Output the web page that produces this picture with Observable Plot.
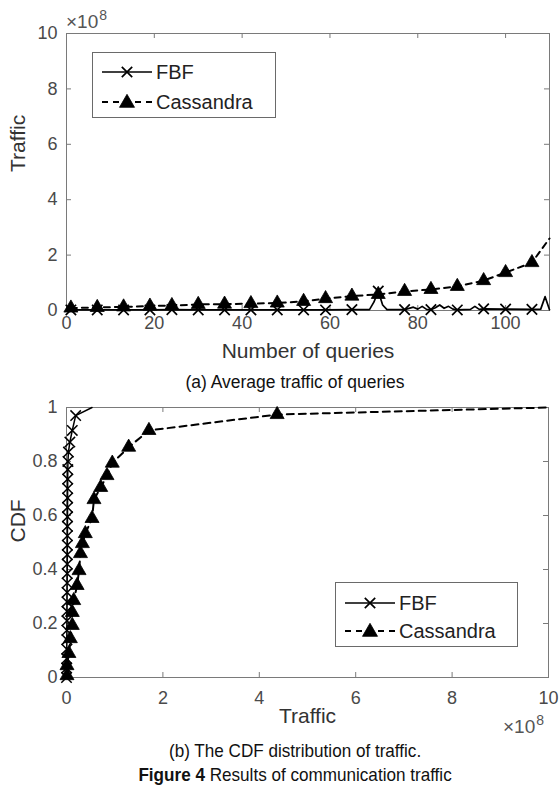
<!DOCTYPE html>
<html>
<head>
<meta charset="utf-8">
<script src="https://cdn.jsdelivr.net/npm/d3@7"></script>
<script src="https://cdn.jsdelivr.net/npm/@observablehq/plot@0.6"></script>
<style>
  body { margin: 0; background: #fff; }
  #wrap { position: relative; width: 560px; height: 787px; overflow: hidden; background: #fff;
          font-family: "Liberation Sans", Arial, Helvetica, sans-serif; }
  .abs { position: absolute; }
  .cap { position: absolute; left: 15px; width: 560px; text-align: center; color: #111; white-space: nowrap; }
  .exp { position: absolute; color: #555; font-size: 19px; line-height: 19px; white-space: nowrap; }
  .exp span { font-size: 14px; position: relative; top: -8px; margin-left: 1px; }
</style>
</head>
<body>
<div id="wrap"></div>
<script>
// ---------- (a) Average traffic of queries (traffic in units of 1e8) ----------
const queryTicks = [0, 20, 40, 60, 80, 100];
const trafficTicksA = [0, 2, 4, 6, 8, 10];
const markerQueries = [1, 7, 13, 19, 24, 30, 36, 42, 48, 54, 59, 65, 71, 77, 83, 89, 95, 100, 106];

const queriesFBF = [0, 1, 7, 13, 19, 24, 30, 36, 42, 48, 54, 59, 65, 69, 70, 71, 72, 73, 77, 79, 80, 81, 82, 83, 84, 85, 86, 87, 88, 89, 92, 93, 94, 95, 100, 106, 108, 109, 110];
const trafficFBF = [0.03, 0.02, 0.02, 0.02, 0.02, 0.03, 0.02, 0.02, 0.02, 0.02, 0.02, 0.02, 0.03, 0.03, 0.3, 0.7, 0.2, 0.03, 0.03, 0.12, 0.05, 0.15, 0.04, 0.03, 0.1, 0.2, 0.08, 0.15, 0.05, 0.02, 0.04, 0.15, 0.04, 0.06, 0.05, 0.04, 0.05, 0.5, 0.03];

const queriesCass = [1, 7, 13, 19, 24, 30, 36, 42, 48, 54, 59, 65, 71, 77, 83, 89, 95, 100, 106, 110];
const trafficCass = [0.09, 0.11, 0.13, 0.16, 0.18, 0.22, 0.23, 0.25, 0.27, 0.33, 0.43, 0.52, 0.58, 0.69, 0.76, 0.87, 1.08, 1.37, 1.73, 2.6];

// ---------- (b) CDF of traffic (traffic in units of 1e8) ----------
const trafficTicksB = [0, 2, 4, 6, 8, 10];
const cdfTicks = [0, 0.2, 0.4, 0.6, 0.8, 1];

const cdfTrafficFBF = [0.0, 0.003, 0.005, 0.006, 0.008, 0.009, 0.01, 0.011, 0.012, 0.013, 0.014, 0.015, 0.016, 0.017, 0.018, 0.019, 0.02, 0.021, 0.022, 0.023, 0.024, 0.025, 0.027, 0.03, 0.04, 0.07, 0.12, 0.19, 0.53];
const cdfFBF = [0, 0.035, 0.07, 0.105, 0.14, 0.175, 0.21, 0.245, 0.28, 0.315, 0.35, 0.385, 0.42, 0.455, 0.49, 0.525, 0.56, 0.595, 0.63, 0.665, 0.70, 0.735, 0.77, 0.80, 0.835, 0.872, 0.915, 0.97, 1.0];
const cdfMarkersFBF = 28; // first 28 points carry markers

const cdfTrafficCass = [0.01, 0.01, 0.05, 0.08, 0.12, 0.12, 0.15, 0.22, 0.26, 0.29, 0.33, 0.39, 0.53, 0.57, 0.71, 0.84, 0.95, 1.29, 1.71, 4.37, 10];
const cdfCass = [0.007, 0.044, 0.089, 0.144, 0.193, 0.241, 0.285, 0.341, 0.396, 0.459, 0.496, 0.533, 0.589, 0.659, 0.704, 0.748, 0.794, 0.853, 0.915, 0.974, 1.0];
const cdfMarkersCass = 20;

const seriesNames = ["FBF", "Cassandra"];

// ---------- build ----------
const wrap = document.getElementById("wrap");
const axisGray = "#7a7a7a";
const tickText = "#4a4a4a";
const labelText = "#333";
const FONT = "'Liberation Sans', Arial, Helvetica, sans-serif";
const TRI_R = 5.2, X_R = 4.8;

function inwardTicks(xInner, yInner, innerW, innerH) {
  return [
    Plot.ruleX(xInner, {x: d => d, insetTop: innerH - 5, stroke: axisGray}),
    Plot.ruleX(xInner, {x: d => d, insetBottom: innerH - 5, stroke: axisGray}),
    Plot.ruleY(yInner, {y: d => d, insetRight: innerW - 5, stroke: axisGray}),
    Plot.ruleY(yInner, {y: d => d, insetLeft: innerW - 5, stroke: axisGray})
  ];
}

// Plot A
const A = {width: 560, height: 372, mt: 33, mb: 62, ml: 66, mr: 11};
const innerWA = A.width - A.ml - A.mr, innerHA = A.height - A.mt - A.mb;
const fbfA = queriesFBF.map((q, i) => ({q, t: trafficFBF[i]}));
const cassA = queriesCass.map((q, i) => ({q, t: trafficCass[i]}));

const plotA = Plot.plot({
  width: A.width, height: A.height,
  marginTop: A.mt, marginBottom: A.mb, marginLeft: A.ml, marginRight: A.mr,
  style: {fontFamily: FONT, fontSize: "18px", color: tickText, background: "transparent", overflow: "visible"},
  x: {domain: [0, 110], ticks: queryTicks, tickSize: 0, tickPadding: 6, label: null, tickFormat: d => String(d)},
  y: {domain: [0, 10], ticks: trafficTicksA, tickSize: 0, tickPadding: 9, label: null, tickFormat: d => String(d)},
  marks: [
    Plot.frame({stroke: axisGray}),
    ...inwardTicks(queryTicks.filter(d => d > 0 && d < 110), trafficTicksA.filter(d => d > 0 && d < 10), innerWA, innerHA),
    Plot.line(fbfA, {x: "q", y: "t", stroke: "black", strokeWidth: 1.7}),
    Plot.line(cassA, {x: "q", y: "t", stroke: "black", strokeWidth: 2, strokeDasharray: "6,5"}),
    Plot.dot(fbfA.filter(d => markerQueries.includes(d.q)), {x: "q", y: "t", symbol: "times", r: X_R, stroke: "black", strokeWidth: 1.7}),
    Plot.dot(cassA.filter(d => markerQueries.includes(d.q)), {x: "q", y: "t", symbol: "triangle", r: TRI_R, fill: "black", stroke: "black", strokeWidth: 0.8}),
    Plot.text(["Number of queries"], {text: d => d, frameAnchor: "bottom", dy: 47, fontSize: 21, fill: labelText}),
    Plot.text(["Traffic"], {text: d => d, frameAnchor: "left", dx: -48, rotate: -90, fontSize: 21, fill: labelText})
  ]
});
plotA.style.position = "absolute";
plotA.style.left = "0px";
plotA.style.top = "0px";
wrap.appendChild(plotA);

// Plot B
const B = {top: 390, width: 560, height: 345, mt: 17, mb: 58, ml: 66, mr: 12};
const innerWB = B.width - B.ml - B.mr, innerHB = B.height - B.mt - B.mb;
const fbfB = cdfTrafficFBF.map((t, i) => ({t, p: cdfFBF[i], i}));
const cassB = cdfTrafficCass.map((t, i) => ({t, p: cdfCass[i], i}));

const plotB = Plot.plot({
  width: B.width, height: B.height,
  marginTop: B.mt, marginBottom: B.mb, marginLeft: B.ml, marginRight: B.mr,
  style: {fontFamily: FONT, fontSize: "18px", color: tickText, background: "transparent", overflow: "visible"},
  x: {domain: [0, 10], ticks: trafficTicksB, tickSize: 0, tickPadding: 14, label: null, tickFormat: d => String(d)},
  y: {domain: [0, 1], ticks: cdfTicks, tickSize: 0, tickPadding: 9, label: null, tickFormat: d => String(d)},
  marks: [
    Plot.frame({stroke: axisGray}),
    ...inwardTicks(trafficTicksB.filter(d => d > 0 && d < 10), cdfTicks.filter(d => d > 0 && d < 1), innerWB, innerHB),
    Plot.line(fbfB, {x: "t", y: "p", stroke: "black", strokeWidth: 1.5}),
    Plot.line(cassB, {x: "t", y: "p", stroke: "black", strokeWidth: 2, strokeDasharray: "7,5"}),
    Plot.dot(fbfB.filter(d => d.i < cdfMarkersFBF), {x: "t", y: "p", symbol: "times", r: X_R, stroke: "black", strokeWidth: 1.5}),
    Plot.dot(cassB.filter(d => d.i < cdfMarkersCass), {x: "t", y: "p", symbol: "triangle", r: TRI_R, fill: "black", stroke: "black", strokeWidth: 0.8}),
    Plot.text(["Traffic"], {text: d => d, frameAnchor: "bottom", dy: 45, fontSize: 21, fill: labelText}),
    Plot.text(["CDF"], {text: d => d, frameAnchor: "left", dx: -48, rotate: -90, fontSize: 21, fill: labelText})
  ]
});
plotB.style.position = "absolute";
plotB.style.left = "0px";
plotB.style.top = B.top + "px";
wrap.appendChild(plotB);

// Exponent labels
function exponent(left, top) {
  const d = document.createElement("div");
  d.className = "exp";
  d.style.left = left + "px";
  d.style.top = top + "px";
  d.innerHTML = "×10<span>8</span>";
  wrap.appendChild(d);
}
exponent(66, 12);
exponent(503, 717);

// Legends
function legend(left, top, w, h, rowYs) {
  const svg = d3.select(wrap).append("svg")
    .attr("class", "abs").style("left", left + "px").style("top", top + "px")
    .attr("width", w).attr("height", h);
  svg.append("rect").attr("x", 0.5).attr("y", 0.5).attr("width", w - 1).attr("height", h - 1)
    .attr("fill", "white").attr("stroke", "#6a6a6a");
  seriesNames.forEach((name, i) => {
    const y = rowYs[i];
    const g = svg.append("g");
    g.append("line").attr("x1", 10).attr("x2", 60).attr("y1", y).attr("y2", y)
      .attr("stroke", "black").attr("stroke-width", i === 0 ? 1.7 : 2)
      .attr("stroke-dasharray", i === 0 ? null : "6,5");
    const sym = d3.symbol(i === 0 ? d3.symbolTimes : d3.symbolTriangle,
      Math.PI * (i === 0 ? X_R * X_R : TRI_R * TRI_R * 1.15));
    const p = g.append("path").attr("d", sym()).attr("transform", `translate(35,${y + (i === 0 ? 0 : 1)})`);
    if (i === 0) p.attr("fill", "none").attr("stroke", "black").attr("stroke-width", 1.7);
    else p.attr("fill", "black").attr("stroke", "black").attr("stroke-width", 0.8);
    g.append("text").attr("x", 64).attr("y", y).attr("dy", "0.36em")
      .attr("font-family", FONT).attr("font-size", 20).attr("fill", "#222").text(name);
  });
}
legend(92, 52, 184, 66, [20, 50]);
legend(335, 582, 183, 65, [21, 49]);

// Captions
function caption(html, top, size) {
  const d = document.createElement("div");
  d.className = "cap";
  d.style.top = top + "px";
  d.style.fontSize = size + "px";
  d.style.lineHeight = "20px";
  d.innerHTML = html;
  wrap.appendChild(d);
}
caption("(a) Average traffic of queries", 372, 17.5);
caption("<span style='display:inline-block;transform:scaleX(0.9);transform-origin:center'>(b) The CDF distribution of traffic.</span>", 741, 19);
caption("<span style='display:inline-block;transform:scaleX(0.9);transform-origin:center'><b>Figure 4</b> Results of communication traffic</span>", 765, 19);
</script>
</body>
</html>
